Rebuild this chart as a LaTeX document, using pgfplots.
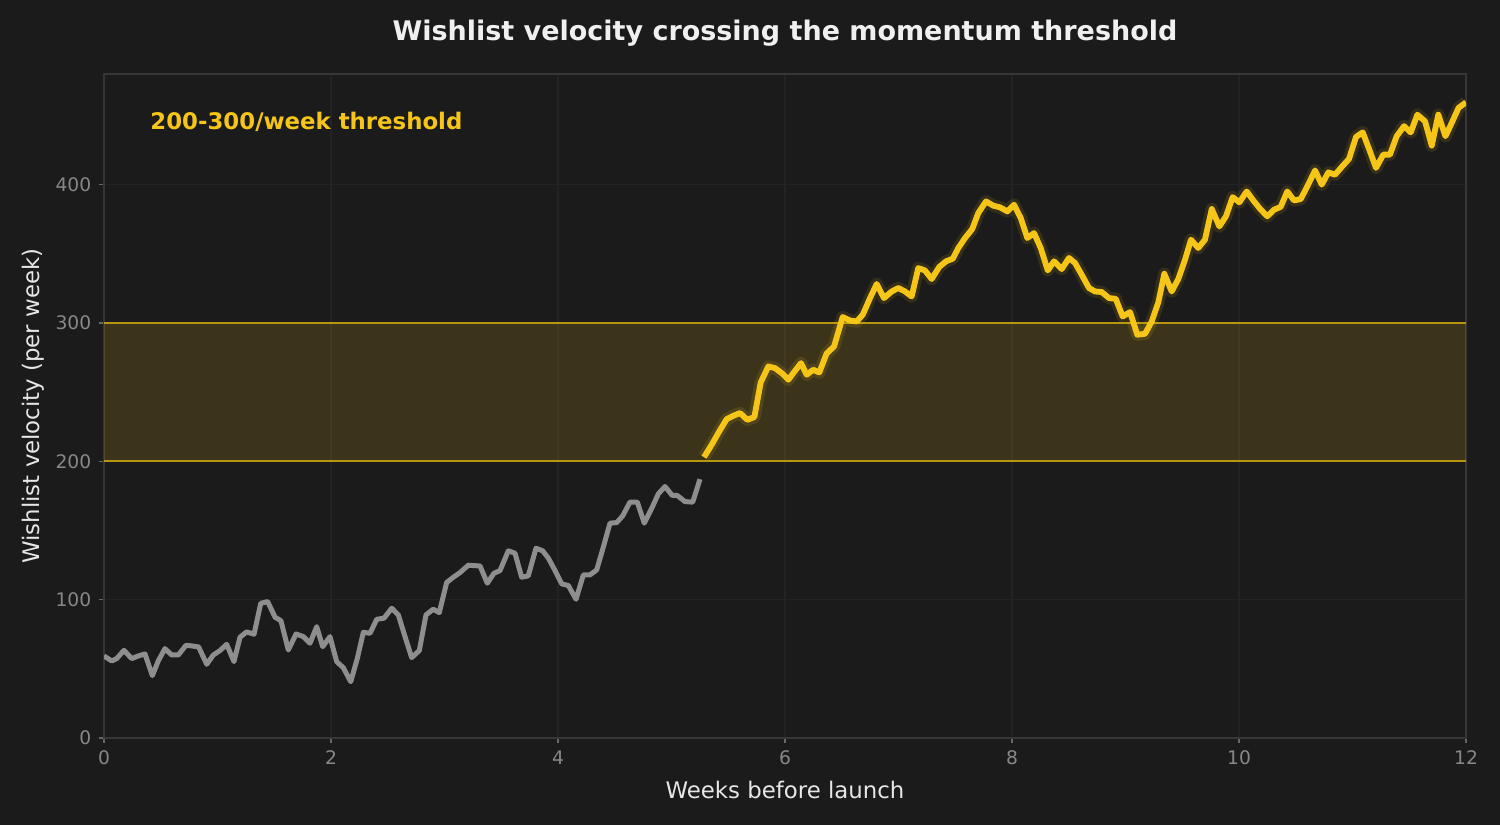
\documentclass[border=0pt]{standalone}
\usepackage{pgfplots}
\pgfplotsset{compat=1.18}
\usepackage{pgfplotstable}
\usepackage{fontspec}
\setmainfont{DejaVu Sans}

\definecolor{bg}{HTML}{1B1B1B}
\definecolor{frame}{HTML}{363636}
\definecolor{gridc}{HTML}{232323}
\definecolor{ticktxt}{HTML}{888888}
\definecolor{labeltxt}{HTML}{E6E6E6}
\definecolor{titletxt}{HTML}{F0F0F0}
\definecolor{gold}{HTML}{F5C518}
\definecolor{bandline}{HTML}{B8960F}
\definecolor{slate}{HTML}{8E8E8E}

% weeks before launch, wishlists per week (below threshold)
\pgfplotstableread{
x y
0.000 59.3
0.068 55.7
0.112 57.4
0.176 63.4
0.244 57.4
0.302 59.3
0.361 60.8
0.426 45.1
0.478 55.7
0.537 64.6
0.596 60.0
0.655 60.0
0.722 67.0
0.781 66.5
0.834 65.8
0.905 53.3
0.963 60.0
1.022 63.2
1.081 67.7
1.145 55.2
1.198 72.8
1.257 76.7
1.322 75.0
1.381 97.4
1.442 98.6
1.507 87.3
1.559 84.8
1.624 63.6
1.692 75.2
1.756 73.3
1.815 68.5
1.874 80.5
1.927 66.0
1.991 73.3
2.050 55.2
2.108 50.9
2.174 40.7
2.232 57.6
2.285 76.4
2.344 75.7
2.403 85.8
2.467 86.6
2.535 93.8
2.593 89.0
2.652 73.3
2.711 58.1
2.778 63.2
2.837 89.0
2.901 93.1
2.954 90.6
3.019 112.4
3.078 116.2
3.137 119.6
3.210 124.9
3.262 124.6
3.313 124.4
3.377 111.9
3.436 119.1
3.489 121.0
3.562 135.3
3.621 133.6
3.680 116.2
3.738 117.2
3.806 137.2
3.865 135.3
3.915 130.0
3.974 121.0
4.033 111.4
4.091 110.2
4.159 100.3
4.223 117.9
4.282 117.9
4.341 121.5
4.399 137.9
4.458 155.3
4.517 155.7
4.570 160.6
4.634 170.5
4.699 170.5
4.760 155.3
4.826 166.1
4.884 176.5
4.943 181.8
5.007 175.3
5.051 175.3
5.119 170.9
5.187 170.5
5.251 187.1
}\below

% weeks before launch, wishlists per week (threshold crossed)
\pgfplotstableread{
x y
5.286 203.0
5.354 212.0
5.412 220.4
5.486 230.5
5.544 232.9
5.604 234.9
5.668 230.0
5.730 232.0
5.786 257.0
5.853 268.6
5.912 267.4
5.971 263.8
6.030 259.0
6.084 265.0
6.141 271.0
6.191 262.6
6.249 266.2
6.302 264.2
6.367 278.0
6.432 283.0
6.508 304.3
6.573 301.8
6.632 301.1
6.685 306.0
6.749 318.0
6.808 328.2
6.872 318.0
6.940 322.8
6.998 325.3
7.057 322.8
7.116 319.2
7.174 339.7
7.233 338.0
7.292 331.8
7.359 340.5
7.419 344.6
7.478 346.5
7.527 354.2
7.586 361.4
7.650 368.0
7.703 379.5
7.771 387.9
7.835 384.8
7.894 383.6
7.959 380.7
8.018 385.5
8.077 375.9
8.135 361.4
8.194 365.0
8.253 354.2
8.315 338.0
8.370 344.6
8.438 339.0
8.502 347.0
8.555 343.4
8.614 334.9
8.678 325.3
8.731 322.8
8.790 322.4
8.855 318.0
8.914 317.5
8.975 304.7
9.040 307.9
9.104 291.5
9.172 292.2
9.231 301.1
9.289 314.9
9.342 335.6
9.407 322.8
9.465 331.8
9.524 345.7
9.577 360.2
9.641 354.2
9.700 360.2
9.760 382.4
9.827 369.8
9.885 377.1
9.944 391.0
10.003 387.2
10.068 395.1
10.126 388.6
10.185 382.6
10.249 377.1
10.308 381.9
10.367 383.9
10.425 395.1
10.485 388.6
10.544 389.6
10.605 399.3
10.670 410.3
10.729 400.0
10.787 408.9
10.846 407.2
10.905 412.8
10.969 418.6
11.031 434.5
11.090 437.8
11.148 425.3
11.207 412.1
11.271 421.7
11.330 421.7
11.389 435.0
11.454 442.3
11.513 437.8
11.571 450.6
11.639 445.8
11.698 428.2
11.756 450.6
11.819 435.0
11.874 444.6
11.934 455.5
12.000 459.5
}\above

\begin{document}
\begin{tikzpicture}
\fill[bg] (0,0) rectangle (720bp,396bp);
\begin{axis}[
  at={(49.92bp,41.76bp)}, anchor=south west,
  width=653.76bp, height=318.72bp, scale only axis,
  xmin=0, xmax=12, ymin=0, ymax=480,
  xtick={0,2,...,12}, ytick={0,100,...,400},
  tick pos=left, tick align=outside,
  major tick length=2.6bp,
  every tick/.style={ticktxt!70!bg, line width=0.6bp},
  axis line style={frame, line width=0.8bp},
  grid=major, major grid style={gridc, line width=0.5bp},
  ticklabel style={font=\fontsize{9}{11}\selectfont, text=ticktxt},
  /pgf/number format/assume math mode=true,
  every axis title shift=0pt,
  title={Wishlist velocity crossing the momentum threshold},
  title style={at={(rel axis cs:0.5,1.0617)}, anchor=center,
    font=\bfseries\fontsize{13}{15}\selectfont, text=titletxt},
  xlabel={Weeks before launch},
  ylabel={Wishlist velocity (per week)},
  label style={font=\fontsize{11}{13}\selectfont, text=labeltxt},
  xlabel style={at={(rel axis cs:0.5,-0.0783)}, anchor=center},
  ylabel style={at={(rel axis cs:-0.0521,0.5)}, anchor=center},
  clip=true,
]
  % threshold band
  \addplot[draw=none, fill=gold, fill opacity=0.15]
    coordinates {(0,200) (12,200) (12,300) (0,300)} -- cycle;
  \addplot[bandline, line width=1.1bp] coordinates {(0,200) (12,200)};
  \addplot[bandline, line width=1.1bp] coordinates {(0,300) (12,300)};

  \addplot[slate, line width=2.4bp, line join=round] table {\below};
  % glow behind the crossing series
  \addplot[gold, line width=6bp, opacity=0.12, line join=round] table {\above};
  \addplot[gold, line width=2.8bp, line join=round] table {\above};

  \node[anchor=west, inner sep=0pt, text=gold,
    font=\bfseries\fontsize{11}{13}\selectfont]
    at (rel axis cs:0.0338,0.928) {200-300/week threshold};
\end{axis}
\end{tikzpicture}
\end{document}
